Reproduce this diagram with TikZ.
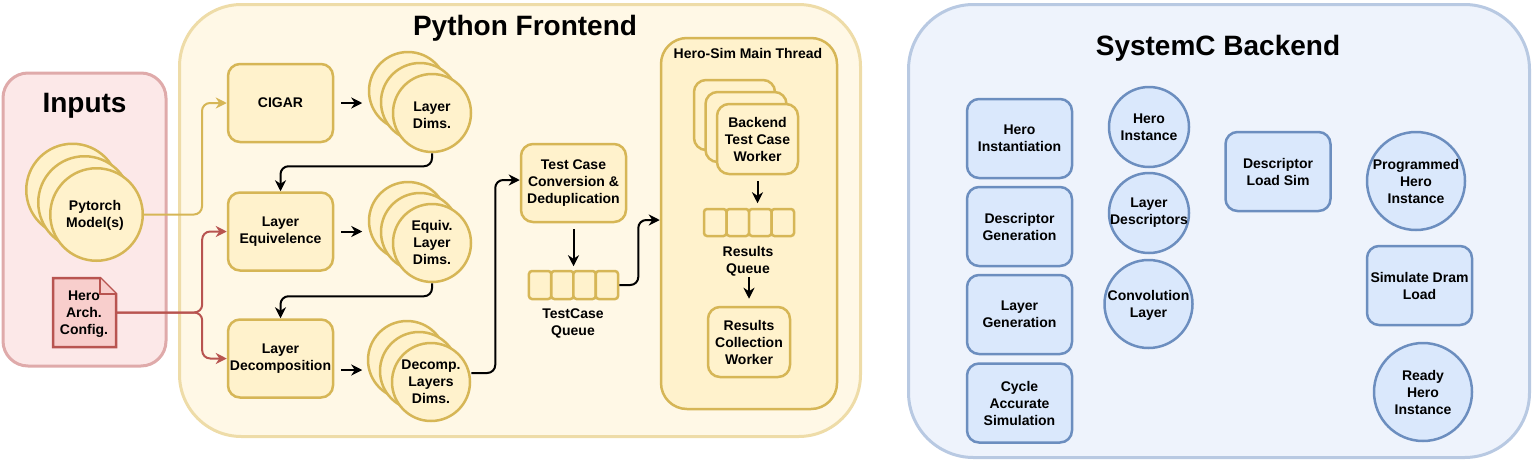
\documentclass[tikz,border=0pt]{standalone}
\usepackage{fontspec}
\setmainfont{Liberation Sans}
\usetikzlibrary{arrows.meta,calc}
\definecolor{yfill}{HTML}{FFF2CC}
\definecolor{ystroke}{HTML}{D6B656}
\definecolor{bfill}{HTML}{DAE8FC}
\definecolor{bstroke}{HTML}{6C8EBF}
\definecolor{rfill}{HTML}{F8CECC}
\definecolor{rstroke}{HTML}{B85450}
\definecolor{feFill}{HTML}{FFF8E6}
\definecolor{feStroke}{HTML}{EEDCA8}
\definecolor{inFill}{HTML}{FCE8E8}
\definecolor{inStroke}{HTML}{DFAAAA}
\definecolor{beFill}{HTML}{EEF3FC}
\definecolor{beStroke}{HTML}{B8C9E2}
\begin{document}
\begin{tikzpicture}[x=1pt,y=-1pt,
  lbl/.style={font=\fontsize{14}{17}\selectfont\bfseries, align=center, text=black, inner sep=0pt},
  ttl/.style={font=\fontsize{28}{34}\selectfont\bfseries, inner sep=0pt, anchor=base},
  cont/.style={draw, line width=3pt, inner sep=0pt},
  ybox/.style={lbl, draw=ystroke, fill=yfill, line width=2.5pt, rounded corners=12pt, minimum width=105pt, minimum height=78pt},
  bbox/.style={lbl, draw=bstroke, fill=bfill, line width=2.5pt, rounded corners=12pt, minimum width=105pt, minimum height=79pt},
  ycirc/.style={draw=ystroke, fill=yfill, line width=2.5pt, circle, inner sep=0pt, minimum size=78pt},
  bcirc/.style={draw=bstroke, fill=bfill, line width=2.5pt, circle, inner sep=0pt},
  qcell/.style={draw=ystroke, fill=yfill, line width=2.5pt, rounded corners=3pt, inner sep=0pt},
  conn/.style={line width=2pt, rounded corners=8pt, -{Stealth[length=11pt,width=11pt,inset=3.5pt]}}
]
\useasboundingbox (0,0) rectangle (1536,469);

% containers
\node[cont, draw=inStroke, fill=inFill, rounded corners=25pt, minimum width=163pt, minimum height=293pt] (inputs) at (84.5,219.5) {};
\node[cont, draw=feStroke, fill=feFill, rounded corners=62pt, minimum width=681pt, minimum height=432pt] (front) at (520,220.5) {};
\node[cont, draw=beStroke, fill=beFill, rounded corners=65pt, minimum width=621pt, minimum height=453pt] (back) at (1219,231) {};

\node[ttl] (tinputs) at (84.5,112) {Inputs};
\node[ttl] (tfront) at (525,35) {Python Frontend};
\node[ttl] (tback) at (1218,55) {SystemC Backend};

% Inputs
\node[ycirc, minimum size=92.5pt] (pt3) at (72.5,190) {};
\node[ycirc, minimum size=92.5pt] (pt2) at (84.5,202.5) {};
\node[ycirc, minimum size=92.5pt] (pt1) at (96.5,214.5) {};
\node[lbl] (pt1t) at (95,215) {Pytorch\\Model(s)};

\draw[draw=rstroke, fill=rfill, line width=2.5pt, line join=miter]
  (53,278) -- (100,278) -- (116,294) -- (116,347) -- (53,347) -- cycle;
\draw[draw=rstroke, fill=rfill, line width=2.5pt, line join=miter]
  (100,278) -- (100,294) -- (116,294);
\node[lbl, minimum width=63pt, minimum height=69pt] (note) at (84.5,312.5) {};
\node[lbl] (notet) at (84,314) {Hero\\Arch.\\Config.};

% Frontend column 1
\node[ybox] (cigar) at (280.5,103) {CIGAR};
\node[ybox] (le) at (280.5,231.5) {Layer\\Equivelence};
\node[ybox] (ld) at (280.5,358.5) {Layer\\Decomposition};

% stacks
\node[ycirc] (lm3) at (408,91) {};
\node[ycirc] (lm2) at (420,102) {};
\node[ycirc] (lm1) at (432,113) {};
\node[lbl] (lm1t) at (432,115) {Layer\\Dims.};

\node[ycirc] (eq3) at (408,221) {};
\node[ycirc] (eq2) at (420,232) {};
\node[ycirc] (eq1) at (432,243) {};
\node[lbl] (eq1t) at (432,242) {Equiv.\\Layer\\Dims.};

\node[ycirc] (dc3) at (407,360) {};
\node[ycirc] (dc2) at (419,371) {};
\node[ycirc] (dc1) at (431,382) {};
\node[lbl] (dc1t) at (431,382) {Decomp.\\Layers\\Dims.};

% test case conversion and queue
\node[ybox] (tc) at (573.5,183) {Test Case\\Conversion \&\\Deduplication};
\node[qcell, minimum width=22.25pt, minimum height=28pt] (q1) at (540.1,285) {};
\node[qcell, minimum width=22.25pt, minimum height=28pt] (q2) at (562.4,285) {};
\node[qcell, minimum width=22.25pt, minimum height=28pt] (q3) at (584.6,285) {};
\node[qcell, minimum width=22.25pt, minimum height=28pt] (q4) at (606.9,285) {};
\node[lbl] (qt) at (573,323) {TestCase\\Queue};

% Hero-Sim main thread
\node[cont, draw=ystroke, fill=yfill, line width=2.5pt, rounded corners=26pt, minimum width=176pt, minimum height=371pt] (thread) at (749,223.5) {};
\node[lbl, anchor=base] (threadt) at (748,58) {Hero-Sim Main Thread};
\node[ybox, minimum width=81pt, minimum height=70pt] (w3) at (734.5,115) {};
\node[ybox, minimum width=81pt, minimum height=70pt] (w2) at (746,127) {};
\node[ybox, minimum width=81pt, minimum height=70pt] (w1) at (757.5,139) {Backend\\Test Case\\Worker};
\node[qcell, minimum width=22.5pt, minimum height=27pt] (r1) at (715.25,222.5) {};
\node[qcell, minimum width=22.5pt, minimum height=27pt] (r2) at (737.75,222.5) {};
\node[qcell, minimum width=22.5pt, minimum height=27pt] (r3) at (760.25,222.5) {};
\node[qcell, minimum width=22.5pt, minimum height=27pt] (r4) at (782.75,222.5) {};
\node[lbl] (rqt) at (748,261) {Results\\Queue};
\node[ybox, minimum width=82pt, minimum height=70pt] (rcw) at (749,342) {Results\\Collection\\Worker};

% connectors
\draw[conn, draw=ystroke, color=ystroke] (pt1.east) -- ++(58,0) |- (cigar.west);
\draw[conn, draw=rstroke, color=rstroke] (note.east) -- ++(86,0) |- (le.west);
\draw[conn, draw=rstroke, color=rstroke] (note.east) -- ++(86,0) |- (ld.west);

\draw[conn] ([xshift=7pt]cigar.east) -- ++(21,0);
\draw[conn] ([xshift=7pt]le.east) -- ++(21,0);
\draw[conn] ([xshift=7pt,yshift=-11.5pt]ld.east) -- ++(21,0);
\draw[conn] (lm1.south) -- ++(0,13) -| (le.north);
\draw[conn] (eq1.south) -- ++(0,13) -| (ld.north);
\draw[conn] ([yshift=9pt]dc1.east) -- ++(24,0) |- ([yshift=3pt]tc.west);
\draw[conn] ([yshift=-6pt]tc.south) -- ++(0,37);
\draw[conn] (q4.east) -- ++(19,0) |- ([yshift=3.5pt]thread.west);
\draw[conn] ([yshift=-6pt]w1.south) -- ++(0,22);
\draw[conn] ([yshift=29pt]rcw.north) -- ([yshift=7pt]rcw.north);

% Backend
\node[bbox] (hi) at (1019.5,138.5) {Hero\\Instantiation};
\node[bbox] (dg) at (1019.5,226.5) {Descriptor\\Generation};
\node[bbox] (lg) at (1019.5,314.5) {Layer\\Generation};
\node[bbox] (cas) at (1019.5,403) {Cycle\\Accurate\\Simulation};

\node[bcirc, minimum size=80pt] (hinst) at (1149,127) {};
\node[lbl] (hinstt) at (1149,127) {Hero\\Instance};
\node[bcirc, minimum size=80pt] (ldesc) at (1149,213) {};
\node[lbl] (ldesct) at (1149,213) {Layer\\Descriptors};
\node[bcirc, minimum size=88pt] (conv) at (1148.5,304) {};
\node[lbl] (convt) at (1148.5,305) {Convolution\\Layer};

\node[bbox] (dls) at (1278,171.5) {Descriptor\\Load Sim};
\node[bcirc, minimum size=98pt] (phi) at (1416,181) {};
\node[lbl] (phit) at (1416,181) {Programmed\\Hero\\Instance};
\node[bbox] (sdl) at (1419.5,285.5) {Simulate Dram\\Load};
\node[bcirc, minimum size=98pt] (rhi) at (1423,392) {};
\node[lbl] (rhit) at (1423,392) {Ready\\Hero\\Instance};
\end{tikzpicture}
\end{document}
